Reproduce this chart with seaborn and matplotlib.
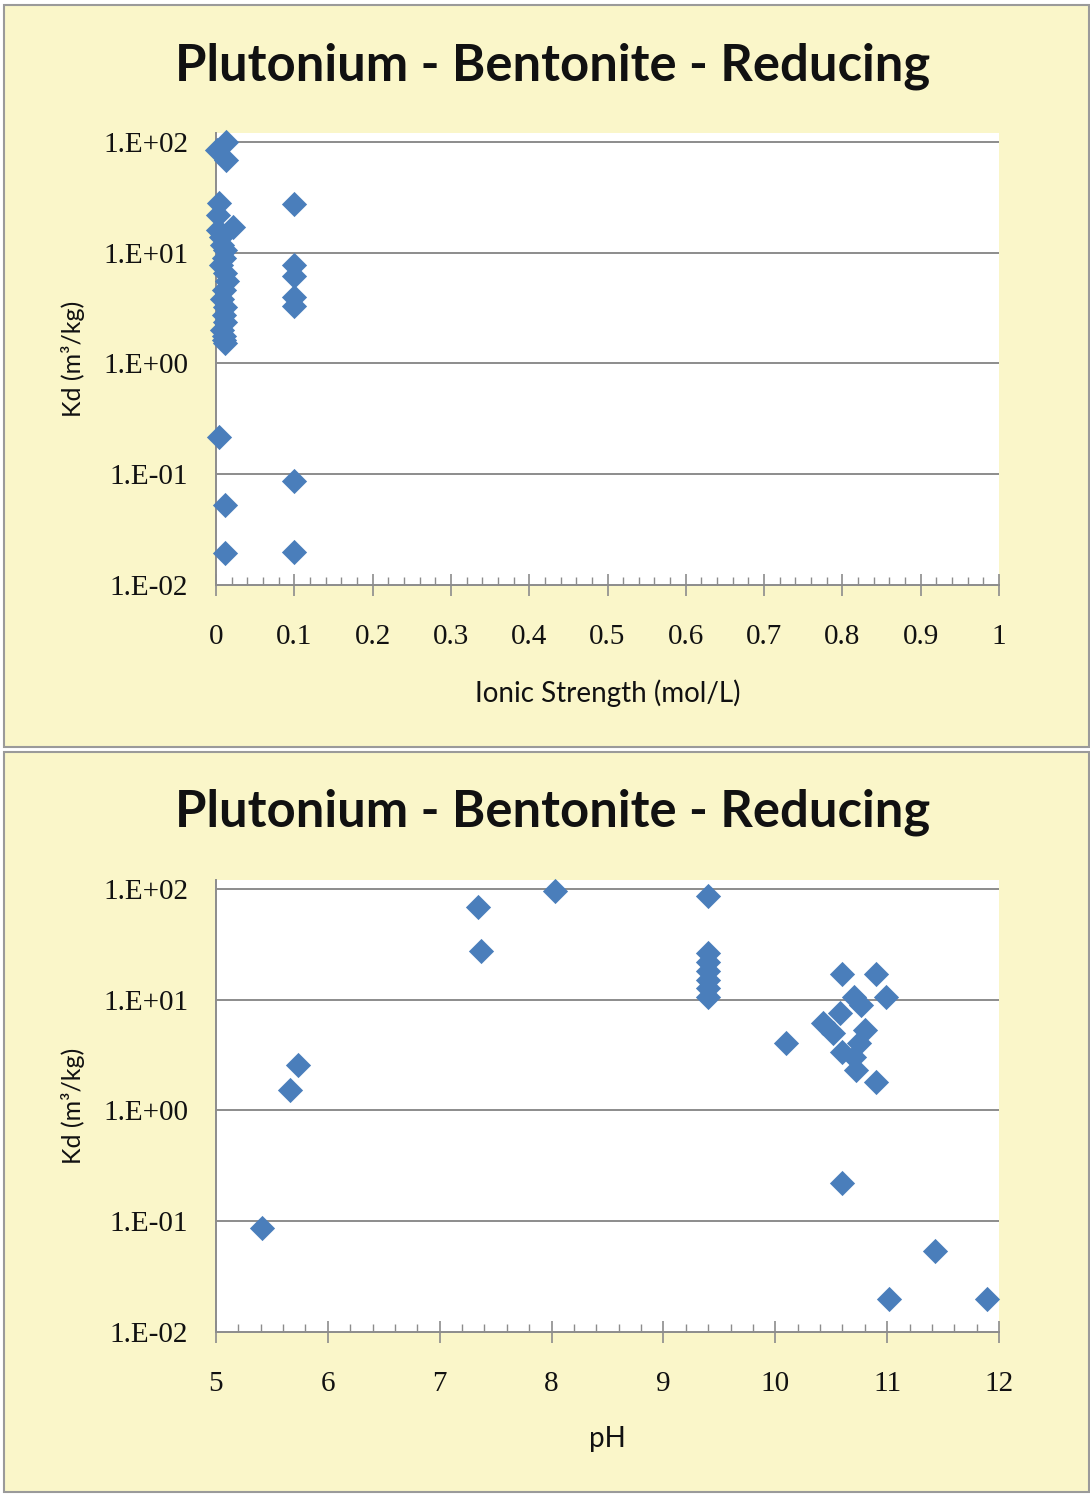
import numpy as np
import pandas as pd
import matplotlib
matplotlib.use("Agg")
import matplotlib.pyplot as plt
import seaborn as sns
from matplotlib.patches import Rectangle
from matplotlib.ticker import FixedLocator, MultipleLocator, NullLocator

# ---------------- data ----------------
title = "Plutonium - Bentonite - Reducing"

ionic_x = [0.001, 0.013, 0.013,
           0.004, 0.003, 0.022, 0.003, 0.006, 0.008, 0.012, 0.010, 0.006,
           0.012, 0.014, 0.010, 0.008, 0.012, 0.010, 0.012, 0.008, 0.010,
           0.012, 0.010,
           0.1, 0.1, 0.1, 0.1, 0.1,
           0.004, 0.1, 0.011, 0.011, 0.1]
ionic_kd = [85, 100, 68,
            27.9, 21.9, 17.2, 16.1, 13.9, 11.8, 10.6, 8.9, 7.8,
            6.5, 5.5, 4.6, 3.85, 3.25, 2.74, 2.39, 2.0, 1.76,
            1.53, 1.62,
            27.5, 7.7, 6.1, 4.0, 3.3,
            0.218, 0.086, 0.053, 0.0196, 0.020]

ph_x = [5.41, 5.66, 5.73, 7.34, 7.37, 8.03,
        9.40, 9.40, 9.40, 9.40, 9.40, 9.40, 9.40,
        10.10,
        10.60, 10.90, 10.99, 10.70, 10.77, 10.58, 10.43, 10.52, 10.80,
        10.60, 10.75, 10.70, 10.72, 10.90, 10.60,
        11.43, 11.02, 11.89]
ph_kd = [0.087, 1.53, 2.58, 68.7, 27.5, 96,
         86, 26.4, 21.9, 18.2, 15.1, 12.8, 10.6,
         4.05,
         17.1, 17.1, 10.6, 10.6, 9.0, 7.6, 6.1, 5.0, 5.3,
         3.4, 4.05, 3.06, 2.32, 1.82, 0.22,
         0.054, 0.0199, 0.020]

ytick_vals = [0.01, 0.1, 1, 10, 100]
ytick_labels = ["1.E-02", "1.E-01", "1.E+00", "1.E+01", "1.E+02"]
xticks_top = [0, 0.1, 0.2, 0.3, 0.4, 0.5, 0.6, 0.7, 0.8, 0.9, 1]
xtick_labels_top = ["0", "0.1", "0.2", "0.3", "0.4", "0.5", "0.6", "0.7", "0.8", "0.9", "1"]
xticks_bot = [5, 6, 7, 8, 9, 10, 11, 12]
xtick_labels_bot = ["5", "6", "7", "8", "9", "10", "11", "12"]

df_top = pd.DataFrame({"x": ionic_x, "kd": ionic_kd})
df_bot = pd.DataFrame({"x": ph_x, "kd": ph_kd})

# ---------------- style ----------------
sns.set_theme(style="white")
plt.rcParams["font.family"] = ["Lato", "DejaVu Sans"]

W, H = 1090, 1494
fig = plt.figure(figsize=(W / 100, H / 100), dpi=100)
fig.patch.set_facecolor("white")

bg = "#FAF6C9"
edge = "#9A9A9A"
blue = "#4A7EBB"
grid_c = "#8C8C8C"


def px_rect(x0, y0, x1, y1):
    return (x0 / W, 1 - y1 / H, (x1 - x0) / W, (y1 - y0) / H)


for (x0, y0, x1, y1) in [(4, 5, 1089, 747), (4, 752, 1089, 1492)]:
    l, b, w, h = px_rect(x0, y0, x1, y1)
    fig.add_artist(Rectangle((l, b), w, h, transform=fig.transFigure,
                             facecolor=bg, edgecolor=edge, linewidth=1.5, zorder=0))


def make_axes(df, top_px, bottom_px, xlim, xticks, xlabels, minor_step, xlabel, title_y):
    ax = fig.add_axes(px_rect(216, top_px, 999, bottom_px))
    ax.set_facecolor("white")
    sns.scatterplot(data=df, x="x", y="kd", ax=ax, marker="D", s=165,
                    color=blue, edgecolor=blue, linewidth=0, zorder=3, clip_on=False)
    ax.set_yscale("log")
    ax.set_ylim(0.01, 10 ** 2.08)
    ax.set_xlim(*xlim)
    ax.yaxis.set_major_locator(FixedLocator(ytick_vals))
    ax.yaxis.set_minor_locator(NullLocator())
    ax.set_yticks(ytick_vals)
    ax.set_yticklabels(ytick_labels)
    ax.set_xticks(xticks)
    ax.set_xticklabels(xlabels)
    ax.xaxis.set_minor_locator(MultipleLocator(minor_step))
    for v in ytick_vals[1:]:
        ax.axhline(v, color=grid_c, lw=1.4, zorder=1)
    for s in ["top", "right"]:
        ax.spines[s].set_visible(False)
    for s in ["left", "bottom"]:
        ax.spines[s].set_color(grid_c)
        ax.spines[s].set_linewidth(1.4)
    ax.tick_params(axis="x", which="both", bottom=True, top=False)
    ax.tick_params(axis="x", which="major", direction="inout", length=16,
                   width=1.2, color=grid_c, pad=20)
    ax.tick_params(axis="x", which="minor", direction="in", length=6,
                   width=1.0, color=grid_c)
    ax.tick_params(axis="y", which="major", left=False, length=0, pad=20)
    for lab in ax.get_xticklabels() + ax.get_yticklabels():
        lab.set_fontfamily(["Liberation Serif", "DejaVu Serif"])
        lab.set_fontsize(21)
        lab.set_color("#111111")
    ax.set_xlabel(xlabel, fontsize=20, color="#111111", labelpad=21)
    ax.set_ylabel("Kd (m\u00b3/kg)", fontsize=18, color="#111111", labelpad=13)
    fig.text(553 / W, 1 - title_y / H, title, ha="center", va="center",
             fontsize=36.5, fontweight="bold", color="#111111")
    return ax


make_axes(df_top, 133, 585, (0, 1), xticks_top, xtick_labels_top, 0.02,
          "Ionic Strength (mol/L)", 66)
make_axes(df_bot, 880, 1332, (5, 12), xticks_bot, xtick_labels_bot, 0.2,
          "pH", 812)

fig.savefig("out.png", dpi=100)
